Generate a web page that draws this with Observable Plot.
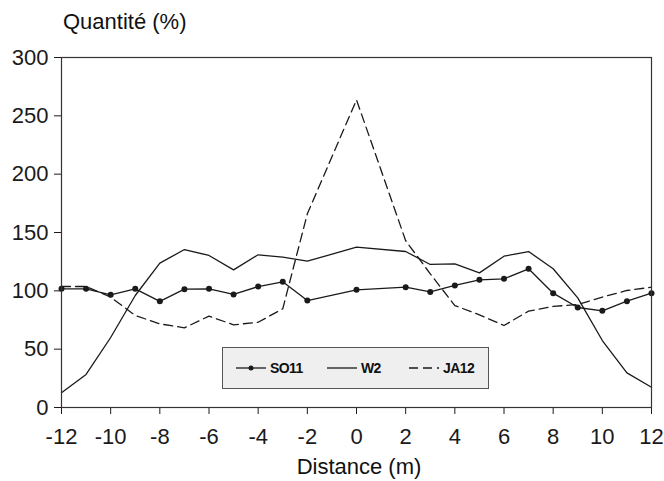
<!DOCTYPE html>
<html>
<head>
<meta charset="utf-8">
<script src="https://cdn.jsdelivr.net/npm/d3@7"></script>
<script src="https://cdn.jsdelivr.net/npm/@observablehq/plot@0.6"></script>
<style>
  body { margin: 0; background: #fff; font-family: "Liberation Sans", Arial, sans-serif; }
  #wrap { position: relative; width: 664px; height: 481px; overflow: hidden; }
  #ylab { position: absolute; left: 63px; top: 9px; font-size: 22px; color: #111; white-space: nowrap; }
  #xlab { position: absolute; left: 0; width: 718px; text-align: center; top: 454px; font-size: 22px; color: #111; white-space: nowrap; }
  #legend { position: absolute; left: 222px; top: 347px; width: 267px; height: 42px; box-sizing: border-box;
            border: 1.5px solid #555; background: #efefef; }
  .item { position: absolute; top: 0; height: 39px; display: flex; align-items: center; }
  .item span { font-weight: bold; font-size: 14px; letter-spacing: -0.6px; color: #111; margin-left: 4px; }
</style>
</head>
<body>
<div id="wrap">
  <div id="chart"></div>
  <div id="ylab">Quantité (%)</div>
  <div id="xlab">Distance (m)</div>
  <div id="legend"></div>
</div>
<script>
// Distance (m)
const distance = [-12, -11, -10, -9, -8, -7, -6, -5, -4, -3, -2, -1, 0, 1, 2, 3, 4, 5, 6, 7, 8, 9, 10, 11, 12];
// Series values (%) ; null = no measurement
const so11 = [101.7, 101.7, 96.6, 101.7, 91, 101.4, 101.7, 96.9, 103.7, 107.7, 91.7, null, 100.9, null, 103.1, 99.1, 104.6, 109.4, 110.3, 118.9, 98, 85.7, 82.9, 91.1, 98];
const w2   = [12.6, 28.3, 60, 96, 123.7, 135.4, 130.3, 118, 130.9, 128.9, 125.4, null, 137.4, null, 133.7, 122.6, 123.1, 115.4, 129.7, 133.7, 118.9, 94, 57.4, 29.7, 17.4];
const ja12 = [103.7, 103.7, 94.6, 78.9, 71.7, 68.3, 78.3, 70.9, 73.1, 84.6, 166, null, 263.7, null, 143, 114.6, 87.4, 79.4, 70.3, 82.6, 86.6, 88.3, 94.6, 100.3, 103.1];
const seriesNames = ["SO11", "W2", "JA12"];
const xTicks = [-12, -10, -8, -6, -4, -2, 0, 2, 4, 6, 8, 10, 12];
const yTicks = [0, 50, 100, 150, 200, 250, 300];

const toRows = (vals) => distance.map((d, i) => ({d, v: vals[i]})).filter(r => r.v != null);
const rSO = toRows(so11), rW = toRows(w2), rJA = toRows(ja12);
const ink = "#1a1a1a";

const chart = Plot.plot({
  width: 664,
  height: 481,
  marginLeft: 61,
  marginRight: 13,
  marginTop: 57,
  marginBottom: 74,
  style: { fontSize: "22px", fontFamily: "'Liberation Sans', Arial, sans-serif", color: ink, background: "#fff" },
  x: { domain: [-12, 12] },
  y: { domain: [0, 300] },
  marks: [
    Plot.axisX({ ticks: xTicks, tickSize: 7, tickPadding: 14, label: null, tickFormat: d => String(d).replace("\u2212", "-"), stroke: ink }),
    Plot.axisY({ ticks: yTicks, tickSize: 7, tickPadding: 6, label: null, stroke: ink }),
    Plot.line(rW, { x: "d", y: "v", stroke: ink, strokeWidth: 1.3 }),
    Plot.line(rJA, { x: "d", y: "v", stroke: ink, strokeWidth: 1.3, strokeDasharray: "9,5" }),
    Plot.line(rSO, { x: "d", y: "v", stroke: ink, strokeWidth: 1.3 }),
    Plot.dot(rSO, { x: "d", y: "v", r: 3, fill: ink }),
    Plot.frame({ stroke: "#333", strokeWidth: 1.2 })
  ]
});
document.getElementById("chart").appendChild(chart);

// legend
const leg = document.getElementById("legend");
const swatches = [
  { name: seriesNames[0], left: 13, svg: '<svg width="30" height="10"><line x1="0" y1="5" x2="30" y2="5" stroke="#1a1a1a" stroke-width="1.3"/><circle cx="15" cy="5" r="2.5" fill="#1a1a1a"/></svg>' },
  { name: seriesNames[1], left: 104, svg: '<svg width="30" height="10"><line x1="0" y1="5" x2="30" y2="5" stroke="#1a1a1a" stroke-width="1.3"/></svg>' },
  { name: seriesNames[2], left: 186, svg: '<svg width="30" height="10"><line x1="0" y1="5" x2="30" y2="5" stroke="#1a1a1a" stroke-width="1.3" stroke-dasharray="9,5"/></svg>' }
];
for (const s of swatches) {
  const div = document.createElement("div");
  div.className = "item";
  div.style.left = s.left + "px";
  div.innerHTML = s.svg + "<span>" + s.name + "</span>";
  leg.appendChild(div);
}
</script>
</body>
</html>
